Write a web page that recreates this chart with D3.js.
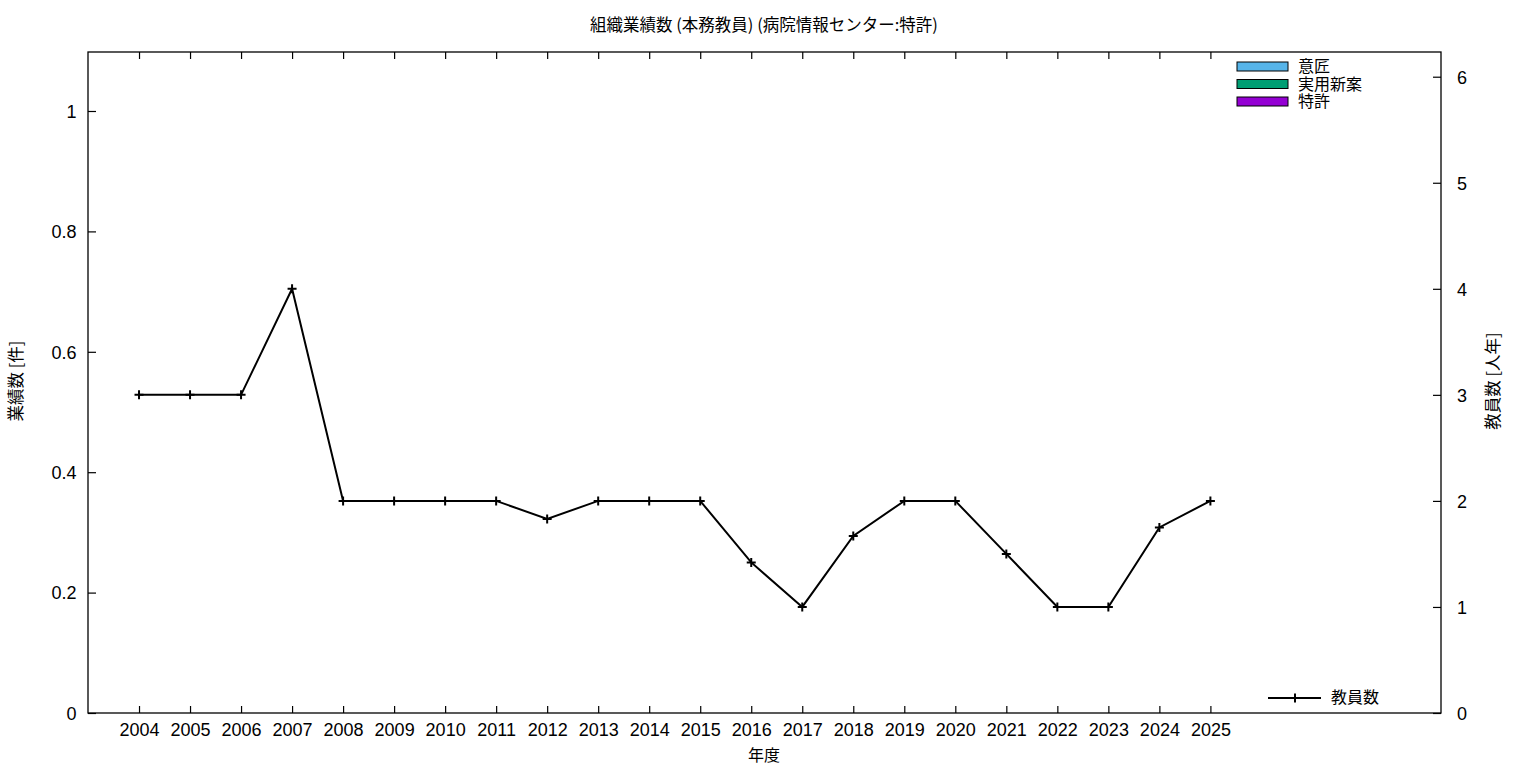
<!DOCTYPE html>
<html><head><meta charset="utf-8">
<script src="https://cdn.jsdelivr.net/npm/d3@7"></script>
<style>
body{margin:0;background:#fff;}
text{font-family:"Liberation Sans","Noto Sans CJK JP",sans-serif;fill:#000;}
.cjk{font-family:"Noto Sans CJK JP",sans-serif;}
</style></head><body>
<svg id="c" width="1536" height="768"></svg>
<script>
const years = ["2004","2005","2006","2007","2008","2009","2010","2011","2012","2013","2014","2015","2016","2017","2018","2019","2020","2021","2022","2023","2024","2025"];
const staff = [3,3,3,4,2,2,2,2,1.83,2,2,2,1.42,1,1.67,2,2,1.5,1,1,1.75,2];
const design = years.map(()=>0);      // 意匠
const utility = years.map(()=>0);     // 実用新案
const patent = years.map(()=>0);      // 特許
const leftTicks = [0,0.2,0.4,0.6,0.8,1];
const rightTicks = [0,1,2,3,4,5,6];
const barSeries = [
  {name:"意匠", color:"#56B4E9", values:design},
  {name:"実用新案", color:"#009E73", values:utility},
  {name:"特許", color:"#9400D3", values:patent}
];

const svg = d3.select("#c");
const L=88, R=1441, T=52, B=713;
const x = d3.scaleLinear().domain([-1,25.52]).range([L,R]);
const y = d3.scaleLinear().domain([0,1.098]).range([B,T]);
const y2 = d3.scaleLinear().domain([0,6.233]).range([B,T]);

// bars (all zero, stacked)
const bw = 51*0.5;
years.forEach((yr,i)=>{
  let acc=0;
  barSeries.forEach(s=>{
    const v=s.values[i];
    if(v>0){
      svg.append("rect").attr("x",x(i)-bw/2).attr("y",y(acc+v)).attr("width",bw)
        .attr("height",y(acc)-y(acc+v)).attr("fill",s.color).attr("stroke","#000");
    }
    acc+=v;
  });
});

// frame
svg.append("rect").attr("x",L).attr("y",T).attr("width",R-L).attr("height",B-T)
  .attr("fill","none").attr("stroke","#000").attr("stroke-width",1.3);

// x ticks bottom & top
const xAxisB = d3.axisBottom(x).tickValues(d3.range(years.length)).tickFormat(i=>years[i]).tickSizeInner(-7).tickSizeOuter(0).tickPadding(10.5);
const gxb = svg.append("g").attr("transform",`translate(0,${B})`).call(xAxisB);
const xAxisT = d3.axisTop(x).tickValues(d3.range(years.length)).tickFormat("").tickSizeInner(-7).tickSizeOuter(0);
const gxt = svg.append("g").attr("transform",`translate(0,${T})`).call(xAxisT);
// y left
const yAxis = d3.axisLeft(y).tickValues(leftTicks).tickFormat(d=>d===0?"0":(d===1?"1":d3.format(".1f")(d))).tickSizeInner(-8).tickSizeOuter(0).tickPadding(11.5);
const gy = svg.append("g").attr("transform",`translate(${L},0)`).call(yAxis);
// y right
const y2Axis = d3.axisRight(y2).tickValues(rightTicks).tickFormat(d3.format("d")).tickSizeInner(-8).tickSizeOuter(0).tickPadding(16);
const gy2 = svg.append("g").attr("transform",`translate(${R},0)`).call(y2Axis);

[gxb,gxt,gy,gy2].forEach(g=>{
  g.select(".domain").remove();
  g.selectAll(".tick line").attr("stroke","#000").attr("stroke-width",1.2);
  g.selectAll(".tick text").style("font-family","'Liberation Sans',sans-serif").style("font-size","18px").attr("fill","#000");
});
gy.selectAll(".tick text").attr("dy","0.35em");
gy2.selectAll(".tick text").attr("dy","0.35em");

// staff line
const line = d3.line().x((d,i)=>x(i)).y(d=>y2(d));
svg.append("path").datum(staff).attr("d",line).attr("fill","none").attr("stroke","#000").attr("stroke-width",2);
const cs=4.5;
staff.forEach((d,i)=>{
  const cx=x(i), cy=y2(d);
  svg.append("path").attr("d",`M${cx-cs},${cy}H${cx+cs}M${cx},${cy-cs}V${cy+cs}`).attr("stroke","#000").attr("stroke-width",2);
});

// titles
svg.append("text").attr("class","cjk").attr("x",764).attr("y",31).attr("text-anchor","middle").style("font-size","16.5px").text("組織業績数 (本務教員) (病院情報センター:特許)");
svg.append("text").attr("class","cjk").attr("x",764).attr("y",761).attr("text-anchor","middle").style("font-size","16px").text("年度");
svg.append("text").attr("class","cjk").attr("transform","translate(22,381) rotate(-90)").attr("text-anchor","middle").style("font-size","16.5px").text("業績数 [件]");
svg.append("text").attr("class","cjk").attr("transform","translate(1499,381) rotate(-90)").attr("text-anchor","middle").style("font-size","16.5px").text("教員数 [人年]");

// bar legend
barSeries.forEach((s,i)=>{
  const ly = 62 + i*17.5;
  svg.append("rect").attr("x",1237).attr("y",ly).attr("width",51).attr("height",9).attr("fill",s.color).attr("stroke","#000").attr("stroke-width",1);
  svg.append("text").attr("class","cjk").attr("x",1298).attr("y",ly+10).style("font-size","16px").text(s.name);
});
// line legend
svg.append("path").attr("d","M1268,698H1321").attr("stroke","#000").attr("stroke-width",2);
svg.append("path").attr("d",`M1295,${698-cs}V${698+cs}`).attr("stroke","#000").attr("stroke-width",2);
svg.append("text").attr("class","cjk").attr("x",1331).attr("y",703).style("font-size","16px").text("教員数");
</script></body></html>
